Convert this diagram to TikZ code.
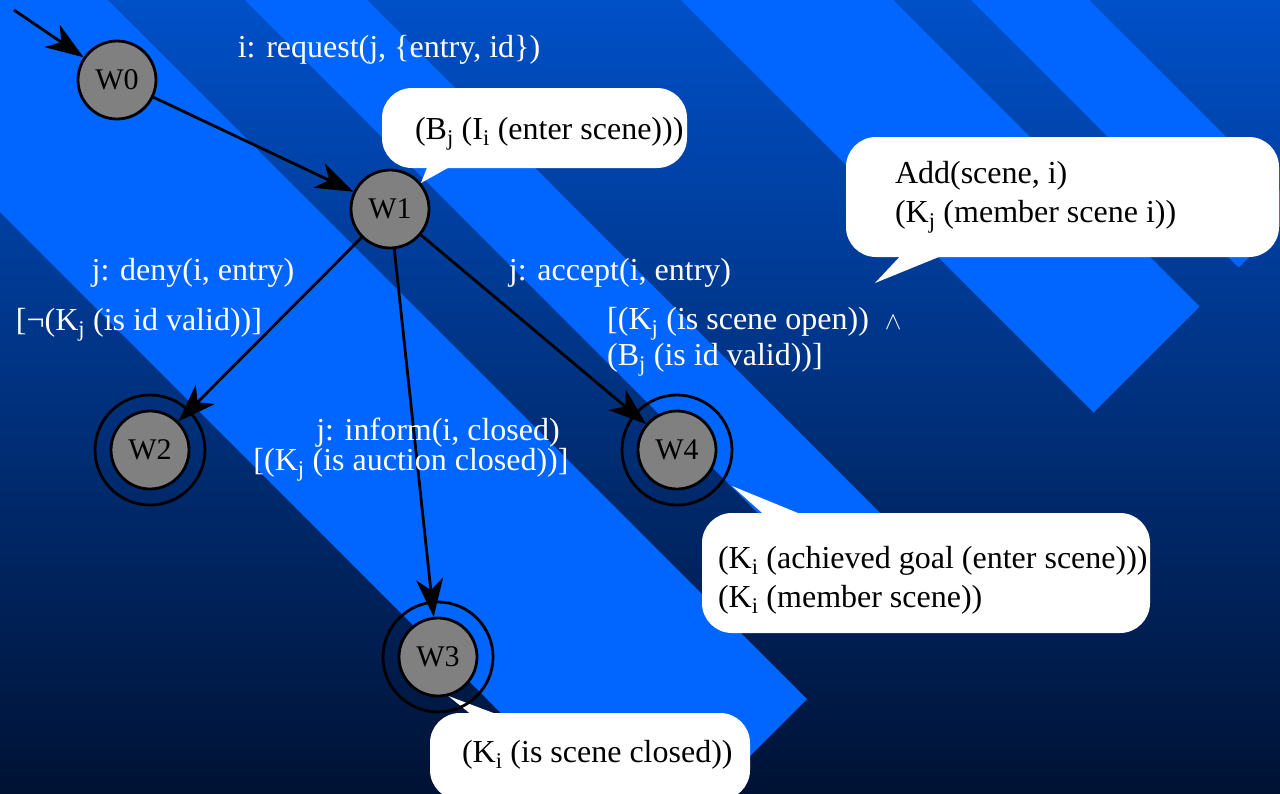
\documentclass[tikz,border=0pt]{standalone}
\usepackage{fontspec}
\setmainfont{Liberation Serif}
\usetikzlibrary{arrows.meta}
\definecolor{bgtop}{RGB}{0,80,200}
\definecolor{bgmid}{RGB}{0,58,150}
\definecolor{bgbot}{RGB}{0,18,52}
\definecolor{stripe}{RGB}{0,102,255}
\definecolor{stategray}{RGB}{128,128,128}
\newcommand{\sub}[1]{\textsubscript{#1}}

\begin{document}
\begin{tikzpicture}[x=1pt,y=-1pt,
  st/.style={circle,draw=black,line width=2.8pt,fill=stategray,minimum size=78pt,inner sep=0pt,font=\fontsize{30}{30}\selectfont},
  ring/.style={draw=black,line width=2.8pt},
  tr/.style={-{Stealth[length=38pt,width=27pt,inset=11pt]},line width=2.8pt},
  lbl/.style={text=white,font=\fontsize{32}{36}\selectfont,inner sep=0pt},
  bub/.style={fill=white,rounded corners=30pt,inner sep=0pt},
  bubtxt/.style={font=\fontsize{32}{39}\selectfont,align=left,inner sep=0pt}]
\useasboundingbox (0,0) rectangle (1280,793);
\shade[top color=bgtop,middle color=bgmid,bottom color=bgbot] (0,0) rectangle (1280,793);
\begin{scope}
\clip (0,0) rectangle (1280,793);
\foreach \ua/\ub in {-212/108,245/367,681/893,971/1089} {
   \fill[stripe] (\ua-60,-60) -- (\ub-60,-60) -- ({(1506+\ub)/2},{(1506-\ub)/2})
      -- ({(1506+\ua)/2},{(1506-\ua)/2}) -- cycle;
}
\end{scope}

\node[st] (W0) at (117,80) {W0};
\node[st] (W1) at (390,209) {W1};
\node[st] (W2) at (150,450) {W2};
\node[st] (W3) at (438,657) {W3};
\node[st] (W4) at (677,450) {W4};

\node[bub,minimum width=305pt,minimum height=80pt] (note1) at (534.5,128) {};
\fill[white] (430,160) -- (W1.40) -- (462,160) -- cycle;
\node[bubtxt,anchor=west] (note1txt) at ([xshift=33pt,yshift=-6pt]note1.west) {(B\sub{j} (I\sub{i} (enter scene)))};

\coordinate (note2tip) at (875,283);
\node[bub,minimum width=433pt,minimum height=120pt] (note2) at (1062.5,197) {};
\fill[white] (906,250) -- (note2tip) -- (956,250) -- cycle;
\node[bubtxt,anchor=west] (note2txt) at ([xshift=49pt]note2.west) {Add(scene, i)\\(K\sub{j} (member scene i))};

\coordinate (note3tip) at (732,486);
\node[bub,minimum width=448pt,minimum height=120pt] (note3) at (926,573) {};
\fill[white] (770,520) -- (note3tip) -- (815,520) -- cycle;
\node[bubtxt,anchor=west] (note3txt) at ([xshift=16pt,yshift=-7pt]note3.west) {(K\sub{i} (achieved goal (enter scene)))\\(K\sub{i} (member scene))};

\node[bub,minimum width=320pt,minimum height=87pt] (note4) at (590,756.5) {};
\fill[white] (478,720) -- (W3.-75) -- (512,720) -- cycle;
\node[bubtxt,anchor=west] (note4txt) at ([xshift=32pt,yshift=2pt]note4.west) {(K\sub{i} (is scene closed))};

\foreach \n in {W2,W3,W4} {
   \draw[ring] (\n) circle[radius=55pt];
}

\coordinate (start) at (14,10);
\draw[tr] (start) -- (W0);
\draw[tr] (W0) -- (W1);
\draw[tr] (W1) -- (W2);
\draw[tr] (W1) -- (W3);
\draw[tr] (W1) -- (W4);

\node[lbl] (lreq) at (389,50) {i: request(j, \{entry, id\})};
\node[lbl] (ldeny) at (193,273) {j: deny(i, entry)};
\node[lbl] (ldenyc) at (139,325) {[¬(K\sub{j} (is id valid))]};
\node[lbl] (lacc) at (620,273) {j: accept(i, entry)};
\node[lbl,align=left,anchor=west] (laccc) at (607,342) {[(K\sub{j} (is scene open))~~$\wedge$\\(B\sub{j} (is id valid))]};
\node[lbl] (linf) at (438,433) {j: inform(i, closed)};
\node[lbl] (linfc) at (411,465) {[(K\sub{j} (is auction closed))]};
\end{tikzpicture}
\end{document}
